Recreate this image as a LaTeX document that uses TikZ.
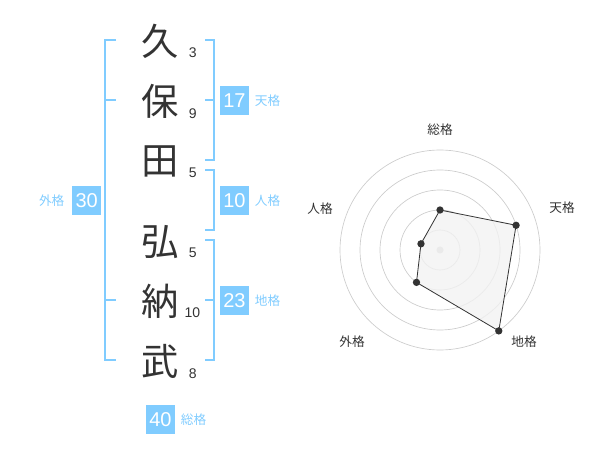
\documentclass[tikz,border=0pt]{standalone}
\usepackage{fontspec}
\setmainfont{Liberation Sans}
\newfontfamily\jpfont{Noto Sans CJK JP}
\usetikzlibrary{positioning}
\definecolor{namegray}{HTML}{333333}
\definecolor{kakublue}{HTML}{80CCFF}
\definecolor{ringgray}{HTML}{CCCCCC}
\definecolor{areagray}{HTML}{F2F2F2}

\begin{document}
\begin{tikzpicture}[x=0.75pt, y=-0.75pt,
    kanji/.style={font=\jpfont\fontsize{28}{28}\selectfont, text=namegray, inner sep=0pt},
    strokes/.style={font=\fontsize{10.5}{10.5}\selectfont, text=namegray, inner sep=0pt},
    scorebox/.style={fill=kakublue, text=white, minimum size=21.75pt, inner sep=0pt,
        font=\fontsize{15}{15}\selectfont},
    scorelabel/.style={font=\jpfont\fontsize{9.5}{9.5}\selectfont, text=kakublue, inner sep=0pt},
    axislabel/.style={font=\jpfont\fontsize{9.5}{9.5}\selectfont, text=namegray, inner sep=0pt},
    bracket/.style={draw=kakublue, line width=1.5pt},
    dot/.style={circle, fill=namegray, inner sep=0pt, minimum size=5.5pt}]
    \useasboundingbox (0,0) rectangle (600,470);

    % name characters and their stroke counts
    \node [kanji] (k1) at (160,41.7) {久};
    \node [kanji] (k2) at (160,101.7) {保};
    \node [kanji] (k3) at (160,161.7) {田};
    \node [kanji] (k4) at (160,241.7) {弘};
    \node [kanji] (k5) at (160,301.7) {納};
    \node [kanji] (k6) at (160,361.7) {武};

    \node [strokes] (s1) at (192.7,52.7) {3};
    \node [strokes] (s2) at (192.7,113.3) {9};
    \node [strokes] (s3) at (192.7,172.3) {5};
    \node [strokes] (s4) at (192.7,252.3) {5};
    \node [strokes] (s5) at (192.3,312.7) {10};
    \node [strokes] (s6) at (192.7,373.3) {8};

    % brackets
    \draw [bracket] (116,40) -- (105.3,40) -- (105.3,360) -- (116,360);
    \draw [bracket] (105.3,100) -- (116,100);
    \draw [bracket] (105.3,300) -- (116,300);

    \draw [bracket] (205,40) -- (214.3,40) -- (214.3,160) -- (205,160);
    \draw [bracket] (205,100) -- (214.3,100);
    \draw [bracket] (205,170) -- (214.3,170) -- (214.3,230) -- (205,230);
    \draw [bracket] (205,240) -- (214.3,240) -- (214.3,360) -- (205,360);
    \draw [bracket] (205,300) -- (214.3,300);

    % scores
    \node [scorebox] (ten) at (234.5,100.5) {17};
    \node [scorelabel, right=4pt of ten] (tenName) {天格};
    \node [scorebox] (jin) at (234.5,200.5) {10};
    \node [scorelabel, right=4pt of jin] (jinName) {人格};
    \node [scorebox] (chi) at (234.5,300.5) {23};
    \node [scorelabel, right=4pt of chi] (chiName) {地格};
    \node [scorebox] (gai) at (86.7,200.5) {30};
    \node [scorelabel, left=5.5pt of gai] (gaiName) {外格};
    \node [scorebox] (sou) at (160.5,419.3) {40};
    \node [scorelabel, right=4pt of sou] (souName) {総格};

    % radar chart
    \begin{scope}[shift={(440,250)}, y=0.75pt]
        \foreach \r in {20,40,...,100}
            \draw [ringgray, line width=0.5pt] (0,0) circle (\r);
        \fill [ringgray] (0,0) circle (3.5);

        \foreach \name/\x/\y in {総格/0/120, 天格/122/42, 地格/84/-92, 外格/-88/-92, 人格/-120/41}
            \node [axislabel] at (\x,\y) {\name};

        \coordinate (pSou) at (90:40);
        \coordinate (pTen) at (18:80);
        \coordinate (pChi) at (-54:100);
        \coordinate (pGai) at (-126:40);
        \coordinate (pJin) at (162:20);

        \draw [fill=areagray, fill opacity=0.8, draw=namegray, line width=0.6pt]
            (pSou) -- (pTen) -- (pChi) -- (pGai) -- (pJin) -- cycle;
        \foreach \p in {pSou,pTen,pChi,pGai,pJin}
            \node [dot] at (\p) {};
    \end{scope}
\end{tikzpicture}
\end{document}
